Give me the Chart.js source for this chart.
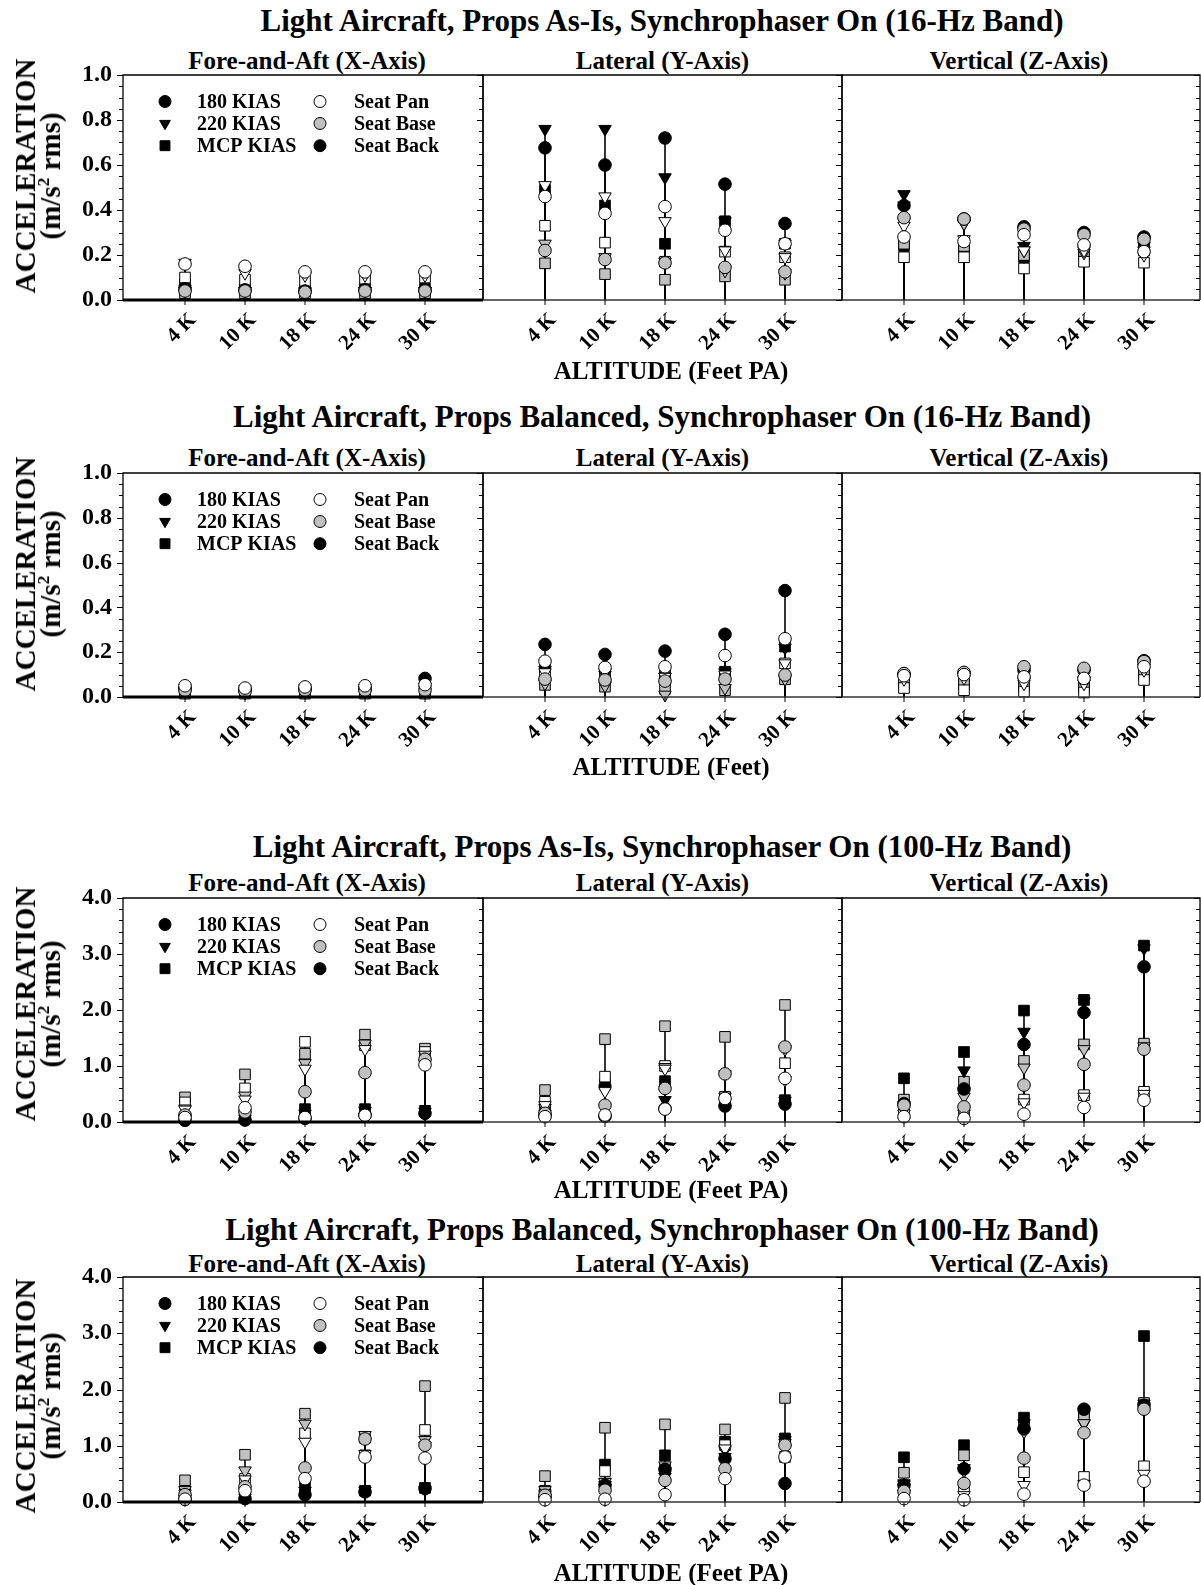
<!DOCTYPE html>
<html><head><meta charset="utf-8">
<script src="https://cdn.jsdelivr.net/npm/chart.js@4.4.0/dist/chart.umd.min.js"></script>
<style>
html,body{margin:0;padding:0;background:#fff;}
#root{position:relative;width:1201px;height:1585px;overflow:hidden;font-family:"Liberation Serif","Times New Roman",serif;font-weight:bold;color:#000;}
canvas{position:absolute;}
.t{position:absolute;white-space:nowrap;transform:translate(-50%,-50%);line-height:1;}
.yt{position:absolute;white-space:nowrap;transform:translate(-50%,-50%) rotate(-90deg);text-align:center;font-size:29px;line-height:25px;}
</style></head><body><div id="root"></div>
<script>
// ---------------- DATA ----------------
const altitudes = ['4 K', '10 K', '18 K', '24 K', '30 K'];
const speeds = ['180 KIAS', '220 KIAS', 'MCP KIAS'];
const locations = ['Seat Pan', 'Seat Base', 'Seat Back'];
const rowTitles = [
  'Light Aircraft, Props As-Is, Synchrophaser On (16-Hz Band)',
  'Light Aircraft, Props Balanced, Synchrophaser On (16-Hz Band)',
  'Light Aircraft, Props As-Is, Synchrophaser On (100-Hz Band)',
  'Light Aircraft, Props Balanced, Synchrophaser On (100-Hz Band)'
];
const axisTitles = ['Fore-and-Aft (X-Axis)', 'Lateral (Y-Axis)', 'Vertical (Z-Axis)'];
const xTitles = ['ALTITUDE (Feet PA)', 'ALTITUDE (Feet)', 'ALTITUDE (Feet PA)', 'ALTITUDE (Feet PA)'];
const yTicks16 = [0.0, 0.2, 0.4, 0.6, 0.8, 1.0];
const yTicks100 = [0.0, 1.0, 2.0, 3.0, 4.0];

// rows of each panel array: 180 Pan, 180 Base, 180 Back, 220 Pan, 220 Base, 220 Back, MCP Pan, MCP Base, MCP Back
const r1X = [
  [0.16, 0.15, 0.125, 0.125, 0.125],
  [0.04, 0.04, 0.035, 0.04, 0.04],
  [0.05, 0.045, 0.04, 0.045, 0.045],
  [0.165, 0.12, 0.11, 0.11, 0.11],
  [0.04, 0.04, 0.035, 0.04, 0.04],
  [0.05, 0.04, 0.04, 0.04, 0.04],
  [0.10, 0.09, 0.085, 0.095, 0.10],
  [0.03, 0.03, 0.03, 0.03, 0.03],
  [0.07, 0.05, 0.04, 0.05, 0.05]
];
const r1Y = [
  [0.46, 0.385, 0.415, 0.31, 0.25],
  [0.22, 0.18, 0.165, 0.145, 0.125],
  [0.676, 0.60, 0.72, 0.515, 0.34],
  [0.51, 0.46, 0.35, 0.22, 0.19],
  [0.25, 0.19, 0.17, 0.13, 0.12],
  [0.76, 0.76, 0.545, 0.35, 0.25],
  [0.33, 0.255, 0.17, 0.215, 0.19],
  [0.163, 0.115, 0.09, 0.105, 0.09],
  [0.49, 0.42, 0.25, 0.35, 0.25]
];
const r1Z = [
  [0.28, 0.26, 0.29, 0.245, 0.215],
  [0.366, 0.36, 0.315, 0.29, 0.27],
  [0.42, 0.36, 0.325, 0.30, 0.28],
  [0.33, 0.27, 0.22, 0.22, 0.20],
  [0.42, 0.34, 0.22, 0.21, 0.22],
  [0.47, 0.34, 0.24, 0.23, 0.24],
  [0.19, 0.19, 0.14, 0.17, 0.166],
  [0.25, 0.24, 0.20, 0.215, 0.23],
  [0.24, 0.23, 0.19, 0.20, 0.22]
];
const r2X = [
  [0.05, 0.04, 0.045, 0.05, 0.055],
  [0.03, 0.025, 0.03, 0.03, 0.03],
  [0.035, 0.03, 0.035, 0.035, 0.083],
  [0.04, 0.035, 0.04, 0.04, 0.045],
  [0.025, 0.02, 0.025, 0.025, 0.025],
  [0.03, 0.025, 0.03, 0.03, 0.035],
  [0.035, 0.03, 0.035, 0.035, 0.04],
  [0.015, 0.015, 0.015, 0.015, 0.015],
  [0.02, 0.02, 0.02, 0.02, 0.025]
];
const r2Y = [
  [0.16, 0.132, 0.135, 0.185, 0.26],
  [0.08, 0.076, 0.071, 0.08, 0.098],
  [0.235, 0.19, 0.205, 0.28, 0.475],
  [0.11, 0.11, 0.09, 0.10, 0.15],
  [0.06, 0.05, 0.01, 0.04, 0.08],
  [0.12, 0.10, 0.09, 0.11, 0.22],
  [0.10, 0.09, 0.08, 0.09, 0.15],
  [0.054, 0.046, 0.036, 0.03, 0.079],
  [0.13, 0.105, 0.098, 0.113, 0.225]
];
const r2Z = [
  [0.095, 0.10, 0.09, 0.083, 0.135],
  [0.105, 0.11, 0.135, 0.128, 0.158],
  [0.10, 0.105, 0.12, 0.12, 0.162],
  [0.08, 0.085, 0.06, 0.06, 0.12],
  [0.09, 0.09, 0.07, 0.07, 0.13],
  [0.09, 0.09, 0.075, 0.075, 0.13],
  [0.04, 0.03, 0.024, 0.02, 0.076],
  [0.07, 0.06, 0.05, 0.046, 0.105],
  [0.06, 0.055, 0.045, 0.04, 0.10]
];
const r3X = [
  [0.08, 0.255, 0.08, 0.12, 1.02],
  [0.125, 0.18, 0.54, 0.88, 1.12],
  [0.03, 0.035, 0.065, 0.125, 0.155],
  [0.22, 0.40, 0.95, 1.30, 1.05],
  [0.24, 0.47, 1.05, 1.40, 1.20],
  [0.05, 0.06, 0.15, 0.20, 0.18],
  [0.35, 0.60, 1.43, 1.37, 1.25],
  [0.44, 0.85, 1.22, 1.56, 1.31],
  [0.08, 0.10, 0.23, 0.23, 0.20]
];
const r3Y = [
  [0.095, 0.125, 0.23, 0.42, 0.78],
  [0.155, 0.30, 0.60, 0.86, 1.34],
  [0.12, 0.10, 0.24, 0.285, 0.32],
  [0.30, 0.55, 0.95, 0.45, 0.75],
  [0.25, 0.57, 0.98, 0.85, 1.30],
  [0.15, 0.60, 0.39, 0.35, 0.38],
  [0.36, 0.81, 1.0, 0.45, 1.05],
  [0.57, 1.48, 1.71, 1.52, 2.09],
  [0.22, 0.67, 0.73, 0.42, 0.39]
];
const r3Z = [
  [0.095, 0.065, 0.14, 0.26, 0.39],
  [0.30, 0.27, 0.66, 1.03, 1.30],
  [0.33, 0.59, 1.385, 1.955, 2.77],
  [0.15, 0.15, 0.35, 0.45, 0.50],
  [0.23, 0.45, 0.97, 1.30, 1.35],
  [0.30, 0.92, 1.61, 2.15, 3.10],
  [0.15, 0.20, 0.40, 0.48, 0.54],
  [0.40, 0.72, 1.09, 1.385, 1.40],
  [0.78, 1.25, 1.99, 2.18, 3.15]
];
const r4X = [
  [0.05, 0.20, 0.415, 0.80, 0.78],
  [0.13, 0.27, 0.605, 1.12, 1.01],
  [0.05, 0.06, 0.13, 0.18, 0.24],
  [0.15, 0.40, 1.07, 0.85, 1.0],
  [0.21, 0.56, 1.39, 1.19, 1.1],
  [0.06, 0.08, 0.2, 0.2, 0.22],
  [0.2, 0.41, 1.22, 0.83, 1.28],
  [0.385, 0.84, 1.57, 1.14, 2.06],
  [0.1, 0.1, 0.27, 0.2, 0.25]
];
const r4Y = [
  [0.04, 0.05, 0.13, 0.415, 0.80],
  [0.12, 0.21, 0.385, 0.59, 1.01],
  [0.10, 0.30, 0.58, 0.77, 0.33],
  [0.15, 0.35, 0.55, 0.95, 0.95],
  [0.21, 0.36, 0.65, 0.92, 1.05],
  [0.12, 0.30, 0.45, 0.80, 1.10],
  [0.20, 0.55, 0.60, 1.01, 0.80],
  [0.46, 1.32, 1.38, 1.29, 1.85],
  [0.18, 0.665, 0.83, 1.07, 1.13]
];
const r4Z = [
  [0.06, 0.04, 0.14, 0.30, 0.37],
  [0.19, 0.33, 0.78, 1.23, 1.65],
  [0.30, 0.59, 1.30, 1.65, 1.72],
  [0.15, 0.12, 0.30, 0.32, 0.50],
  [0.31, 0.55, 1.25, 1.40, 1.70],
  [0.33, 0.60, 1.40, 1.39, 1.75],
  [0.20, 0.25, 0.53, 0.445, 0.635],
  [0.52, 0.83, 1.36, 1.53, 1.76],
  [0.795, 1.01, 1.50, 1.60, 2.95]
];
const panelData = [[r1X, r1Y, r1Z], [r2X, r2Y, r2Z], [r3X, r3Y, r3Z], [r4X, r4Y, r4Z]];
const rowYTicks = [yTicks16, yTicks16, yTicks100, yTicks100];

// ---------------- LAYOUT / STYLE ----------------
const FONT = '"Liberation Serif","Times New Roman",serif';
const ROW_TOP = [75, 473, 898, 1277];
const ROW_BOT = [300, 697, 1122, 1502];
const PANEL_X = [[123, 483], [483, 842], [842, 1200]];
const TITLE_Y = [20, 416, 846, 1229];
const SUB_Y = [60, 457, 882, 1263];
const SUB_DX = [4, 0, -2];
const XT_Y = [370, 766, 1189, 1572];
const YT_DY = [-12, -11, -6, 6];
const MINOR = [0.05, 0.05, 0.2, 0.2];
const MAJOR_EVERY = [4, 4, 5, 5];
const CAT_OFF = 62, CAT_STEP = 60;
const speedStyles = [
  {ps: 'circle', r: 6.3, rot: 0},
  {ps: 'triangle', r: 7.2, rot: 180},
  {ps: 'rect', r: 7.5, rot: 0}
];
const locFills = ['#ffffff', '#c0c0c0', '#000000'];

const root = document.getElementById('root');
function addText(cls, html, x, y, size) {
  const d = document.createElement('div');
  d.className = cls; d.innerHTML = html;
  d.style.left = x + 'px'; d.style.top = y + 'px';
  if (size) d.style.fontSize = size + 'px';
  root.appendChild(d);
  return d;
}

function drawSym(ctx, st, x, y, fill) {
  ctx.save();
  ctx.fillStyle = fill; ctx.strokeStyle = '#000'; ctx.lineWidth = 1;
  Chart.helpers.drawPoint(ctx, {pointStyle: st.ps, radius: st.r, rotation: st.rot, borderWidth: 1}, x, y);
  ctx.restore();
}

function makePanel(r, p) {
  const [x0, x1] = PANEL_X[p];
  const top = ROW_TOP[r], bot = ROW_BOT[r];
  const PL = p === 0 ? 80 : 12, PR = 10, PT = 10, PB = 75;
  const cw = PL + (x1 - x0) + PR, ch = PT + (bot - top) + PB;
  const cv = document.createElement('canvas');
  cv.width = cw; cv.height = ch;
  cv.style.left = (x0 - PL) + 'px'; cv.style.top = (top - PT) + 'px';
  cv.style.width = cw + 'px'; cv.style.height = ch + 'px';
  root.appendChild(cv);

  const data = panelData[r][p];
  const yt = rowYTicks[r];
  const ymax = yt[yt.length - 1];
  const xmin = 1 - CAT_OFF / CAT_STEP;
  const xmax = xmin + (x1 - x0) / CAT_STEP;

  // dataset order: circles (on top) first, then triangles, then squares
  const datasets = [];
  for (let s = 0; s < 3; s++) {
    for (let l = 0; l < 3; l++) {
      const st = speedStyles[s];
      datasets.push({
        label: speeds[s] + ' / ' + locations[l],
        data: data[s * 3 + l].map((v, i) => ({x: i + 1, y: v})),
        pointStyle: st.ps, pointRadius: st.r, pointRotation: st.rot,
        pointBackgroundColor: locFills[l], pointBorderColor: '#000', pointBorderWidth: 1,
        pointHoverRadius: st.r, showLine: false, clip: false
      });
    }
  }

  const framePlugin = {
    id: 'frame' + r + p,
    beforeDatasetsDraw(chart) {
      const {ctx, scales: {x, y}} = chart;
      const y0 = y.getPixelForValue(0);
      ctx.save();
      ctx.strokeStyle = '#000'; ctx.lineWidth = 1.6;
      chart.data.datasets.forEach(ds => ds.data.forEach(pt => {
        const px = x.getPixelForValue(pt.x);
        ctx.beginPath(); ctx.moveTo(px, y0); ctx.lineTo(px, y.getPixelForValue(pt.y)); ctx.stroke();
      }));
      ctx.restore();
    },
    afterDraw(chart) {
      const {ctx, chartArea: a, scales: {x, y}} = chart;
      ctx.save();
      ctx.strokeStyle = '#000';
      ctx.lineWidth = 1.3;
      ctx.beginPath();
      ctx.moveTo(a.left, a.bottom); ctx.lineTo(a.left, a.top); ctx.lineTo(a.right, a.top); ctx.lineTo(a.right, a.bottom);
      ctx.stroke();
      ctx.lineWidth = p === 0 ? 3 : 1.6;
      ctx.strokeStyle = p === 0 ? '#000' : '#333';
      ctx.beginPath(); ctx.moveTo(a.left, a.bottom); ctx.lineTo(a.right, a.bottom); ctx.stroke();
      ctx.lineWidth = 1; ctx.strokeStyle = '#000';
      const n = Math.round(ymax / MINOR[r]);
      for (let k = 0; k <= n; k++) {
        const py = Math.round(y.getPixelForValue(k * MINOR[r])) + 0.5;
        const len = k % MAJOR_EVERY[r] === 0 ? 6 : 4;
        ctx.beginPath();
        ctx.moveTo(a.left - len, py); ctx.lineTo(a.left, py);
        ctx.moveTo(a.right - len, py); ctx.lineTo(a.right, py);
        ctx.stroke();
      }
      altitudes.forEach((_, i) => {
        const px = x.getPixelForValue(i + 1);
        ctx.beginPath(); ctx.moveTo(px, a.bottom); ctx.lineTo(px, a.bottom + 5); ctx.stroke();
      });
      ctx.restore();
    },
    afterDatasetsDraw(chart) {
      if (p !== 0) return;
      const {ctx, chartArea: a} = chart;
      const rowsY = [26.5, 48.5, 70.7];
      ctx.save();
      ctx.font = 'bold 20px ' + FONT;
      ctx.fillStyle = '#000'; ctx.textBaseline = 'middle'; ctx.textAlign = 'left';
      for (let i = 0; i < 3; i++) {
        const yy = a.top + rowsY[i];
        const st = Object.assign({}, speedStyles[i], {r: i === 0 ? 6 : (i === 1 ? 6.2 : 7)});
        drawSym(ctx, st, a.left + 42, yy, '#000');
        ctx.fillStyle = '#000';
        ctx.fillText(speeds[i], a.left + 74, yy + 1);
        drawSym(ctx, {ps: 'circle', r: 6, rot: 0}, a.left + 197, yy, locFills[i]);
        ctx.fillStyle = '#000';
        ctx.fillText(locations[i], a.left + 231, yy + 1);
      }
      ctx.restore();
    }
  };

  new Chart(cv, {
    type: 'scatter',
    data: {datasets},
    options: {
      responsive: false, animation: false, devicePixelRatio: 1,
      layout: {padding: {top: PT, right: PR, left: 0, bottom: 0}},
      plugins: {legend: {display: false}, tooltip: {enabled: false}},
      scales: {
        x: {
          type: 'linear', min: xmin, max: xmax,
          grid: {display: false, drawTicks: false}, border: {display: false},
          afterBuildTicks: s => { s.ticks = altitudes.map((_, i) => ({value: i + 1})); },
          afterFit: s => { s.height = PB; s.paddingLeft = 0; s.paddingRight = 0; },
          ticks: {
            autoSkip: false, maxRotation: 45, minRotation: 45, padding: 8, labelOffset: 8, color: '#000',
            font: {family: FONT, size: 21, weight: 'bold'},
            callback: v => altitudes[Math.round(v) - 1]
          }
        },
        y: {
          min: 0, max: ymax,
          grid: {display: false, drawTicks: false}, border: {display: false},
          afterBuildTicks: s => { s.ticks = yt.map(v => ({value: v})); },
          afterFit: s => { s.width = PL; s.paddingTop = 0; s.paddingBottom = 0; },
          ticks: {
            display: p === 0, padding: 11, color: '#000',
            font: {family: FONT, size: 24, weight: 'bold'},
            callback: v => Number(v).toFixed(1)
          }
        }
      }
    },
    plugins: [framePlugin]
  });
}

for (let r = 0; r < 4; r++) {
  addText('t', rowTitles[r], 662, TITLE_Y[r], 31);
  for (let p = 0; p < 3; p++) {
    const [x0, x1] = PANEL_X[p];
    addText('t', axisTitles[p], (x0 + x1) / 2 + SUB_DX[p], SUB_Y[r], 25);
    makePanel(r, p);
  }
  addText('t', xTitles[r], 671, XT_Y[r], 25);
  addText('yt', 'ACCELERATION<br>(m/s<sup style="font-size:60%;line-height:0">2</sup> rms)', 38, (ROW_TOP[r] + ROW_BOT[r]) / 2 + YT_DY[r]);
}
</script></body></html>
